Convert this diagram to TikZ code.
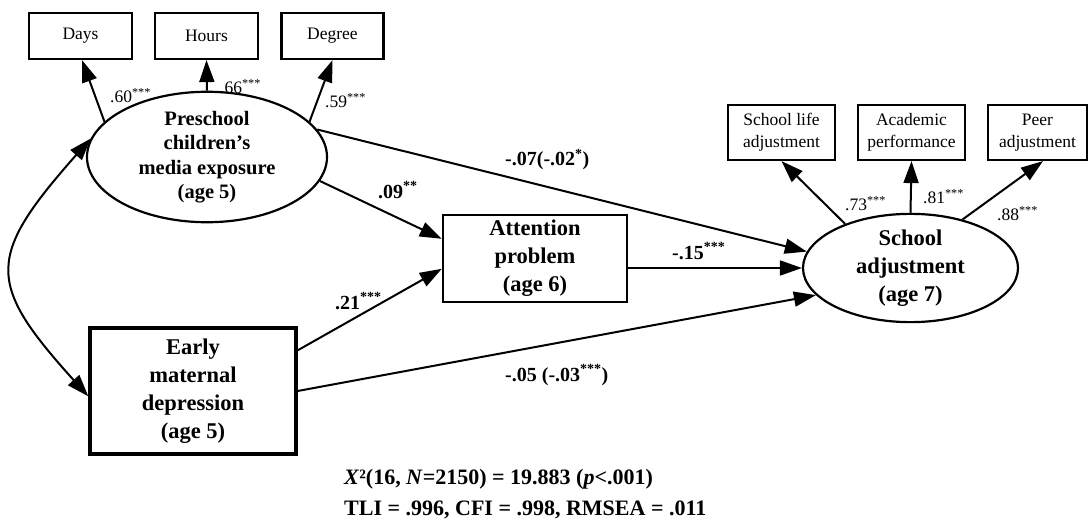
\documentclass[tikz,border=0pt]{standalone}
\usepackage{fontspec}
\setmainfont{Liberation Serif}
\usetikzlibrary{arrows.meta,calc,shapes.geometric}
\begin{document}
\begin{tikzpicture}[x=1pt,y=-1pt,
  smallbox/.style={draw,line width=2.2pt,rectangle,inner sep=0pt,align=center,
    font=\fontsize{17.5}{21.7}\selectfont},
  bigbox/.style={draw,line width=2.4pt,rectangle,inner sep=0pt,align=center,
    font=\fontsize{22.5}{28}\selectfont\bfseries},
  latent/.style={draw,line width=2.2pt,ellipse,inner sep=0pt,align=center,
    font=\fontsize{22.5}{28}\selectfont\bfseries},
  arr/.style={line width=2pt,-{Triangle[length=22pt,width=15pt]}},
  dbl/.style={line width=2pt,{Triangle[length=22pt,width=15pt]}-{Triangle[length=22pt,width=15pt]}},
  coef/.style={anchor=base west,inner sep=0pt,font=\fontsize{17.5}{21}\selectfont},
  bcoef/.style={anchor=base west,inner sep=0pt,font=\fontsize{20}{24}\selectfont\bfseries},
  stat/.style={anchor=base west,inner sep=0pt,font=\fontsize{22}{26}\selectfont\bfseries}
]
\useasboundingbox (0,0) rectangle (1088,524);

% indicator boxes, media exposure
\node[smallbox,minimum width=103pt,minimum height=46pt] (days) at (80.5,36) {Days};
\node[smallbox,minimum width=103pt,minimum height=46pt] (hours) at (206.5,36) {Hours};
\node[smallbox,minimum width=102pt,minimum height=46pt] (degree) at (332.5,36) {Degree};

% indicator boxes, school adjustment
\node[smallbox,minimum width=107pt,minimum height=55pt] (life) at (781.5,132.5) {School life\\adjustment};
\node[smallbox,minimum width=107pt,minimum height=55pt] (acad) at (911.5,132.5) {Academic\\performance};
\node[smallbox,minimum width=99pt,minimum height=55pt] (peer) at (1037.5,132.5) {Peer\\adjustment};

% latent variables
\node[latent,minimum width=240pt,minimum height=110pt,
  font=\fontsize{20.5}{24.5}\selectfont\bfseries] (pre) at (207,157)
  {Preschool\\children’s\\media exposure\\(age 5)};
\node[latent,minimum width=215pt,minimum height=104pt] (sch) at (910.5,268)
  {School\\adjustment\\(age 7)};

% observed variables
\node[bigbox,minimum width=184pt,minimum height=87pt] (att) at (535,258.5)
  {Attention\\problem\\(age 6)};
\node[bigbox,line width=3.3pt,minimum width=206pt,minimum height=126pt] (early) at (193,391)
  {Early\\maternal\\depression\\(age 5)};

% measurement arrows
\draw[arr] (pre.161.4) -- ([xshift=1.5pt]days.south);
\draw[arr] (pre.north) -- (hours.south);
\draw[arr] (pre.19.5) -- (degree.south);
\draw[arr] (sch.146.3) -- (life.south);
\draw[arr] (sch.north) -- (acad.south);
\draw[arr] (sch.43.8) -- ([xshift=5.5pt]peer.south);

% structural arrows
\draw[arr] (pre.-12.8) -- ($(att.north west)+(0,25)$);
\draw[arr] ($(early.north east)+(0,24)$) -- ($(att.north west)+(0,55)$);
\draw[arr] (pre.14.3) -- (sch.171.1);
\draw[arr] (sch.west -| att.east) -- (sch.west);
\draw[arr] (early.east) -- (sch.196);
\draw[dbl] (pre.171.6) .. controls (-14,257) and (-14,283) .. ($(early.north west)+(0,70)$);

% coefficients
\node[coef] (c60) at (110,103) {.60\textsuperscript{***}};
\node[coef] (c66) at (220,94) {.66\textsuperscript{***}};
\node[coef] (c59) at (325,108) {.59\textsuperscript{***}};
\node[coef] (c73) at (845,211) {.73\textsuperscript{***}};
\node[coef] (c81) at (923,204) {.81\textsuperscript{***}};
\node[coef] (c88) at (997,221) {.88\textsuperscript{***}};
\node[bcoef] (c09) at (378,198.5) {.09\textsuperscript{**}};
\node[bcoef] (c21) at (335,309.5) {.21\textsuperscript{***}};
\node[bcoef] (c07) at (505,166) {-.07(-.02\textsuperscript{*})};
\node[bcoef] (c15) at (672,259.5) {-.15\textsuperscript{***}};
\node[bcoef] (c05) at (505,381.5) {-.05 (-.03\textsuperscript{***})};

% fit statistics
\node[stat] (fit1) at (344,484) {\textit{X}²(16, \textit{N}=2150) = 19.883 (\textit{p}<.001)};
\node[stat] (fit2) at (344,515) {TLI = .996, CFI = .998, RMSEA = .011};
\end{tikzpicture}
\end{document}
